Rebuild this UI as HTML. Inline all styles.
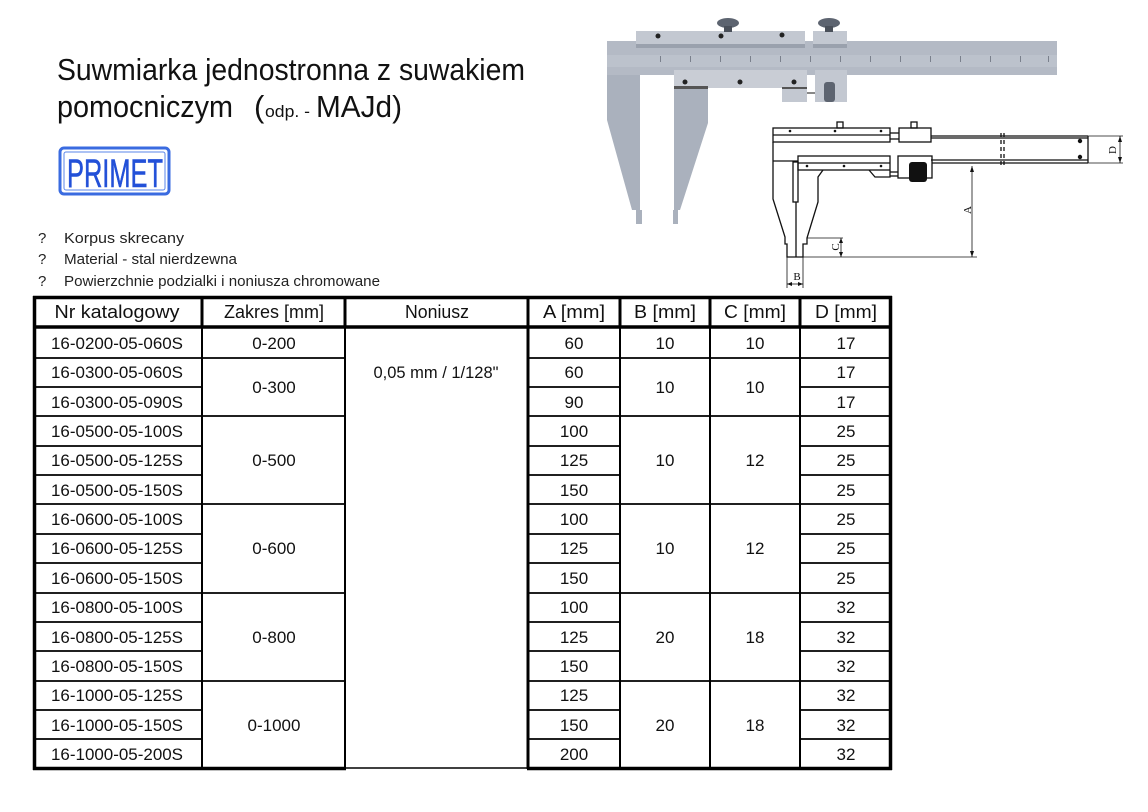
<!DOCTYPE html>
<html><head><meta charset="utf-8"><style>
html,body{margin:0;padding:0;background:#fff;}
body{width:1148px;height:812px;overflow:hidden;position:relative;font-family:"Liberation Sans",sans-serif;}
svg{position:absolute;left:0;top:0;}
</style></head><body>
<svg width="1148" height="812" viewBox="0 0 1148 812" xmlns="http://www.w3.org/2000/svg" font-family="Liberation Sans, sans-serif">
<!-- Title -->
<text x="57" y="80" font-size="31" fill="#111" textLength="468" lengthAdjust="spacingAndGlyphs">Suwmiarka jednostronna z suwakiem</text>
<text x="57" y="117" font-size="31" fill="#111" textLength="176" lengthAdjust="spacingAndGlyphs">pomocniczym</text>
<text x="254" y="117" font-size="31" fill="#111">(</text>
<text x="265" y="117" font-size="17" fill="#111" textLength="45" lengthAdjust="spacingAndGlyphs">odp. -</text>
<text x="316" y="117" font-size="31" fill="#111" textLength="86" lengthAdjust="spacingAndGlyphs">MAJd)</text>
<!-- Logo -->
<rect x="60" y="148" width="109" height="46" rx="4" fill="#fff" stroke="#3a6be0" stroke-width="3"/>
<rect x="64" y="152" width="101" height="38" rx="2" fill="none" stroke="#5a86ea" stroke-width="1"/>
<text x="115" y="187" font-size="40" fill="#2250d8" stroke="#2250d8" stroke-width="0.6" text-anchor="middle" textLength="96" lengthAdjust="spacingAndGlyphs">PRIMET</text>
<!-- bullets -->
<g font-size="15" fill="#222">
<text x="38" y="243">?</text><text x="64" y="243" textLength="120" lengthAdjust="spacingAndGlyphs">Korpus skrecany</text>
<text x="38" y="264">?</text><text x="64" y="264" textLength="173" lengthAdjust="spacingAndGlyphs">Material - stal nierdzewna</text>
<text x="38" y="286">?</text><text x="64" y="286" textLength="316" lengthAdjust="spacingAndGlyphs">Powierzchnie podzialki i noniusza chromowane</text>
</g>
<!-- Photo caliper -->
<g>
<polygon points="607,41 640,41 640,210 642,210 642,224 636,224 636,210 632,210 607,120" fill="#aab1bd"/>
<polygon points="674,88 708,88 708,123 680,210 678,210 678,224 673,224 673,210 674,210" fill="#aab1bd"/>
<rect x="607" y="41" width="450" height="34" fill="#b4bac5"/>
<rect x="607" y="55" width="450" height="12" fill="#bcc2cc"/>
<g fill="#7a808c">
<rect x="660" y="56" width="1" height="6"/><rect x="690" y="56" width="1" height="6"/><rect x="720" y="56" width="1" height="6"/><rect x="750" y="56" width="1" height="6"/><rect x="780" y="56" width="1" height="6"/><rect x="810" y="56" width="1" height="6"/><rect x="840" y="56" width="1" height="6"/><rect x="870" y="56" width="1" height="6"/><rect x="900" y="56" width="1" height="6"/><rect x="930" y="56" width="1" height="6"/><rect x="960" y="56" width="1" height="6"/><rect x="990" y="56" width="1" height="6"/><rect x="1020" y="56" width="1" height="6"/><rect x="1048" y="56" width="1" height="6"/>
</g>
<rect x="636" y="31" width="169" height="17" fill="#c3c8d1"/>
<rect x="636" y="44" width="169" height="4" fill="#9aa1ad"/>
<rect x="813" y="31" width="34" height="17" fill="#c3c8d1"/>
<rect x="813" y="44" width="34" height="4" fill="#9aa1ad"/>
<ellipse cx="728" cy="23" rx="11" ry="5" fill="#5d6470"/><rect x="724" y="26" width="8" height="6" fill="#4a505a"/>
<ellipse cx="829" cy="23" rx="11" ry="5" fill="#5d6470"/><rect x="825" y="26" width="8" height="6" fill="#4a505a"/>
<circle cx="658" cy="36" r="2.5" fill="#222"/><circle cx="721" cy="36" r="2.5" fill="#222"/><circle cx="782" cy="35" r="2.5" fill="#222"/>
<rect x="674" y="70" width="133" height="18" fill="#c9cdd5"/>
<rect x="674" y="86" width="34" height="3" fill="#555"/>
<circle cx="685" cy="82" r="2.5" fill="#222"/><circle cx="740" cy="82" r="2.5" fill="#222"/><circle cx="794" cy="82" r="2.5" fill="#222"/>
<rect x="782" y="87" width="25" height="15" fill="#c3c8d1"/><rect x="782" y="87" width="25" height="2" fill="#555"/>
<rect x="807" y="92" width="8" height="2" fill="#888"/>
<rect x="815" y="70" width="32" height="32" fill="#c3c8d1"/>
<rect x="824" y="82" width="11" height="20" rx="3" fill="#5d6470"/>
</g>
<!-- Line drawing -->
<g fill="none" stroke="#111" stroke-width="1.3">
<rect x="773" y="128" width="117" height="14"/><line x1="773" y1="135" x2="890" y2="135"/>
<rect x="899" y="128" width="32" height="14"/><line x1="890" y1="133" x2="899" y2="133"/><line x1="890" y1="139" x2="899" y2="139"/>
<rect x="837" y="122" width="6" height="6"/><rect x="911" y="122" width="6" height="6"/>
<line x1="931" y1="136" x2="1088" y2="136"/><line x1="931" y1="138" x2="1088" y2="138"/>
<line x1="931" y1="160" x2="1088" y2="160"/><line x1="932" y1="163" x2="1088" y2="163"/>
<line x1="1088" y1="136" x2="1088" y2="163"/>
<line x1="1001" y1="133" x2="1001" y2="166" stroke-dasharray="4,3"/><line x1="1004" y1="133" x2="1004" y2="166" stroke-dasharray="4,3"/>
<rect x="798" y="156" width="92" height="14"/><line x1="798" y1="163" x2="890" y2="163"/>
<rect x="898" y="156" width="34" height="22"/>
<line x1="890" y1="172" x2="898" y2="172"/><line x1="890" y1="176" x2="898" y2="176"/>
<polyline points="869,170 875,177 890,177 890,170"/>
<polyline points="773,142 773,199 785,237 785,244 787,244 787,257 803,257 803,244 807,244 807,238 818,202 818,177 823,170"/>
<line x1="773" y1="161" x2="798" y2="161"/>
<rect x="793" y="162" width="5" height="40"/>
<line x1="796" y1="202" x2="796" y2="257"/>
<line x1="803" y1="257" x2="977" y2="257" stroke-width="0.8"/>
<line x1="807" y1="238" x2="843" y2="238" stroke-width="0.8"/>
<line x1="972" y1="166" x2="972" y2="257" stroke-width="0.8"/>
<line x1="841" y1="238" x2="841" y2="257" stroke-width="0.8"/>
<line x1="1088" y1="136" x2="1123" y2="136" stroke-width="0.8"/><line x1="1088" y1="163" x2="1123" y2="163" stroke-width="0.8"/>
<line x1="1120" y1="136" x2="1120" y2="163" stroke-width="0.8"/>
<line x1="787" y1="257" x2="787" y2="288" stroke-width="0.8"/><line x1="803" y1="257" x2="803" y2="288" stroke-width="0.8"/>
<line x1="787" y1="284" x2="803" y2="284" stroke-width="0.8"/>
</g>
<g fill="#111">
<rect x="909" y="162" width="18" height="20" rx="3"/>
<circle cx="790" cy="131" r="1.3"/><circle cx="835" cy="131" r="1.3"/><circle cx="881" cy="131" r="1.3"/>
<circle cx="807" cy="166" r="1.3"/><circle cx="844" cy="166" r="1.3"/><circle cx="881" cy="166" r="1.3"/>
<circle cx="1080" cy="141" r="2.2"/><circle cx="1080" cy="157" r="2.2"/>
<polygon points="972,166 970,172 974,172"/><polygon points="972,257 970,251 974,251"/>
<polygon points="1120,136 1118,142 1122,142"/><polygon points="1120,163 1118,157 1122,157"/>
<polygon points="841,238 839,243 843,243"/><polygon points="841,257 839,252 843,252"/>
<polygon points="787,284 792,282 792,286"/><polygon points="803,284 798,282 798,286"/>
</g>
<g font-family="Liberation Serif, serif" font-size="11" fill="#111">
<text x="0" y="0" transform="translate(971,210) rotate(-90)" text-anchor="middle">A</text>
<text x="0" y="0" transform="translate(839,247) rotate(-90)" text-anchor="middle">C</text>
<text x="0" y="0" transform="translate(1116,150) rotate(-90)" text-anchor="middle">D</text>
<text x="797" y="280" text-anchor="middle">B</text>
</g>
<!-- Table -->
<g stroke="#000" fill="none">
<line x1="33" y1="297.5" x2="892" y2="297.5" stroke-width="3.5"/>
<line x1="34.5" y1="296" x2="34.5" y2="770" stroke-width="3.5"/>
<line x1="890.5" y1="296" x2="890.5" y2="770" stroke-width="3.5"/>
<line x1="33" y1="768.5" x2="346" y2="768.5" stroke-width="3.5"/>
<line x1="345" y1="768" x2="528" y2="768" stroke-width="1.5"/>
<line x1="527" y1="768.5" x2="892" y2="768.5" stroke-width="3.5"/>
<line x1="33" y1="327" x2="892" y2="327" stroke-width="3.5"/>
<line x1="202" y1="296" x2="202" y2="769" stroke-width="2"/>
<line x1="345" y1="296" x2="345" y2="769" stroke-width="2"/>
<line x1="528" y1="296" x2="528" y2="769" stroke-width="3"/>
<line x1="620" y1="296" x2="620" y2="769" stroke-width="2"/>
<line x1="710" y1="296" x2="710" y2="769" stroke-width="2"/>
<line x1="800" y1="296" x2="800" y2="769" stroke-width="2"/>
<g stroke-width="3"><line x1="202" y1="296" x2="202" y2="328"/><line x1="345" y1="296" x2="345" y2="328"/><line x1="620" y1="296" x2="620" y2="328"/><line x1="710" y1="296" x2="710" y2="328"/><line x1="800" y1="296" x2="800" y2="328"/></g>
<g stroke-width="1.8">
<line x1="34" y1="358" x2="202" y2="358"/><line x1="34" y1="387" x2="202" y2="387"/><line x1="34" y1="416" x2="345" y2="416"/>
<line x1="34" y1="446" x2="202" y2="446"/><line x1="34" y1="475" x2="202" y2="475"/><line x1="34" y1="504" x2="345" y2="504"/>
<line x1="34" y1="534" x2="202" y2="534"/><line x1="34" y1="563" x2="202" y2="563"/><line x1="34" y1="593" x2="345" y2="593"/>
<line x1="34" y1="622" x2="202" y2="622"/><line x1="34" y1="651" x2="202" y2="651"/><line x1="34" y1="681" x2="345" y2="681"/>
<line x1="34" y1="710" x2="202" y2="710"/><line x1="34" y1="739" x2="202" y2="739"/>
<line x1="202" y1="358" x2="345" y2="358"/>
<line x1="528" y1="358" x2="891" y2="358"/><line x1="528" y1="387" x2="620" y2="387"/><line x1="800" y1="387" x2="891" y2="387"/>
<line x1="528" y1="416" x2="891" y2="416"/>
<line x1="528" y1="446" x2="620" y2="446"/><line x1="800" y1="446" x2="891" y2="446"/>
<line x1="528" y1="475" x2="620" y2="475"/><line x1="800" y1="475" x2="891" y2="475"/>
<line x1="528" y1="504" x2="891" y2="504"/>
<line x1="528" y1="534" x2="620" y2="534"/><line x1="800" y1="534" x2="891" y2="534"/>
<line x1="528" y1="563" x2="620" y2="563"/><line x1="800" y1="563" x2="891" y2="563"/>
<line x1="528" y1="593" x2="891" y2="593"/>
<line x1="528" y1="622" x2="620" y2="622"/><line x1="800" y1="622" x2="891" y2="622"/>
<line x1="528" y1="651" x2="620" y2="651"/><line x1="800" y1="651" x2="891" y2="651"/>
<line x1="528" y1="681" x2="891" y2="681"/>
<line x1="528" y1="710" x2="620" y2="710"/><line x1="800" y1="710" x2="891" y2="710"/>
<line x1="528" y1="739" x2="620" y2="739"/><line x1="800" y1="739" x2="891" y2="739"/>
</g>
</g>
<g font-size="17" fill="#111" text-anchor="middle">
<g font-size="18">
<text x="117" y="318" textLength="125" lengthAdjust="spacingAndGlyphs">Nr katalogowy</text>
<text x="274" y="318" textLength="100" lengthAdjust="spacingAndGlyphs">Zakres [mm]</text>
<text x="437" y="318" textLength="64" lengthAdjust="spacingAndGlyphs">Noniusz</text>
<text x="574" y="318" textLength="62" lengthAdjust="spacingAndGlyphs">A [mm]</text>
<text x="665" y="318" textLength="62" lengthAdjust="spacingAndGlyphs">B [mm]</text>
<text x="755" y="318" textLength="62" lengthAdjust="spacingAndGlyphs">C [mm]</text>
<text x="846" y="318" textLength="62" lengthAdjust="spacingAndGlyphs">D [mm]</text>
</g>
<g>
<text x="117" y="349" textLength="132" lengthAdjust="spacingAndGlyphs">16-0200-05-060S</text>
<text x="117" y="378" textLength="132" lengthAdjust="spacingAndGlyphs">16-0300-05-060S</text>
<text x="117" y="408" textLength="132" lengthAdjust="spacingAndGlyphs">16-0300-05-090S</text>
<text x="117" y="437" textLength="132" lengthAdjust="spacingAndGlyphs">16-0500-05-100S</text>
<text x="117" y="466" textLength="132" lengthAdjust="spacingAndGlyphs">16-0500-05-125S</text>
<text x="117" y="496" textLength="132" lengthAdjust="spacingAndGlyphs">16-0500-05-150S</text>
<text x="117" y="525" textLength="132" lengthAdjust="spacingAndGlyphs">16-0600-05-100S</text>
<text x="117" y="554" textLength="132" lengthAdjust="spacingAndGlyphs">16-0600-05-125S</text>
<text x="117" y="584" textLength="132" lengthAdjust="spacingAndGlyphs">16-0600-05-150S</text>
<text x="117" y="613" textLength="132" lengthAdjust="spacingAndGlyphs">16-0800-05-100S</text>
<text x="117" y="643" textLength="132" lengthAdjust="spacingAndGlyphs">16-0800-05-125S</text>
<text x="117" y="672" textLength="132" lengthAdjust="spacingAndGlyphs">16-0800-05-150S</text>
<text x="117" y="701" textLength="132" lengthAdjust="spacingAndGlyphs">16-1000-05-125S</text>
<text x="117" y="731" textLength="132" lengthAdjust="spacingAndGlyphs">16-1000-05-150S</text>
<text x="117" y="760" textLength="132" lengthAdjust="spacingAndGlyphs">16-1000-05-200S</text>
</g>
<text x="274" y="349">0-200</text><text x="274" y="393">0-300</text><text x="274" y="466">0-500</text>
<text x="274" y="554">0-600</text><text x="274" y="643">0-800</text><text x="274" y="731">0-1000</text>
<text x="436" y="378" textLength="125" lengthAdjust="spacingAndGlyphs">0,05 mm / 1/128"</text>
<text x="574" y="349">60</text><text x="574" y="378">60</text><text x="574" y="408">90</text>
<text x="574" y="437">100</text><text x="574" y="466">125</text><text x="574" y="496">150</text>
<text x="574" y="525">100</text><text x="574" y="554">125</text><text x="574" y="584">150</text>
<text x="574" y="613">100</text><text x="574" y="643">125</text><text x="574" y="672">150</text>
<text x="574" y="701">125</text><text x="574" y="731">150</text><text x="574" y="760">200</text>
<text x="665" y="349">10</text><text x="665" y="393">10</text><text x="665" y="466">10</text><text x="665" y="554">10</text><text x="665" y="643">20</text><text x="665" y="731">20</text>
<text x="755" y="349">10</text><text x="755" y="393">10</text><text x="755" y="466">12</text><text x="755" y="554">12</text><text x="755" y="643">18</text><text x="755" y="731">18</text>
<text x="846" y="349">17</text><text x="846" y="378">17</text><text x="846" y="408">17</text>
<text x="846" y="437">25</text><text x="846" y="466">25</text><text x="846" y="496">25</text>
<text x="846" y="525">25</text><text x="846" y="554">25</text><text x="846" y="584">25</text>
<text x="846" y="613">32</text><text x="846" y="643">32</text><text x="846" y="672">32</text>
<text x="846" y="701">32</text><text x="846" y="731">32</text><text x="846" y="760">32</text>
</g>
</svg>
</body></html>
